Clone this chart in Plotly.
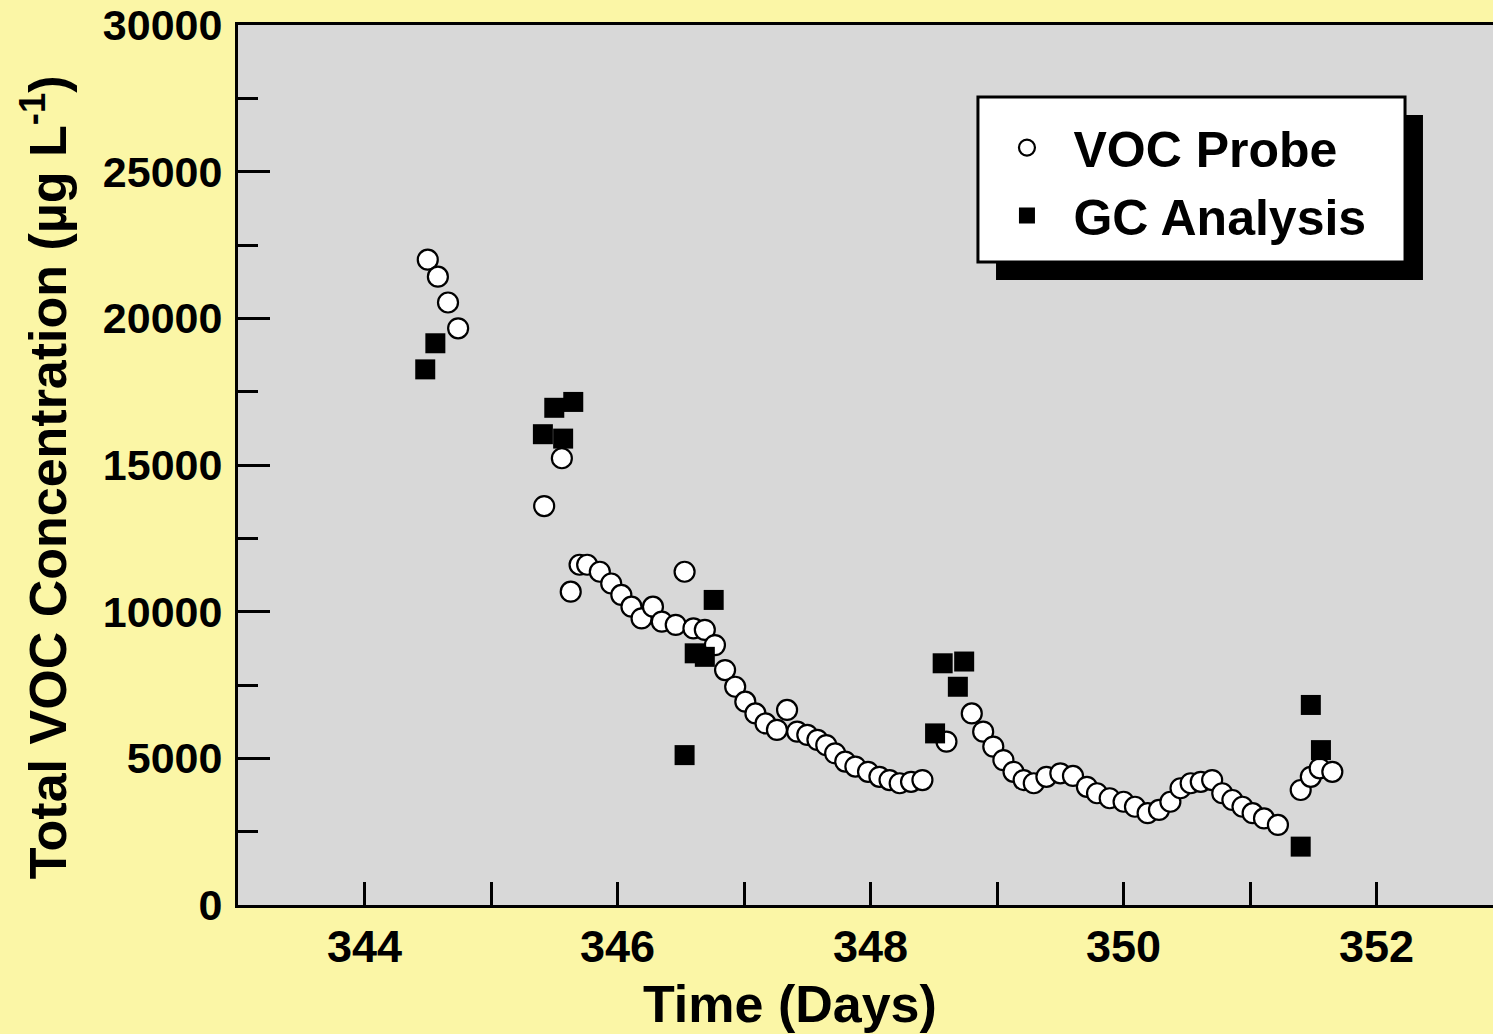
import plotly.graph_objects as go

# ---- data ----
voc_time = [344.50, 344.58, 344.66, 344.74, 345.42, 345.56, 345.63, 345.70, 345.76,
            345.86, 345.95, 346.03, 346.11, 346.19, 346.28, 346.35, 346.46, 346.53,
            346.60, 346.69, 346.77, 346.85, 346.93, 347.01, 347.09, 347.17, 347.26,
            347.34, 347.42, 347.50, 347.58, 347.65, 347.72, 347.80, 347.88, 347.98,
            348.07, 348.15, 348.23, 348.32, 348.41, 348.60, 348.80, 348.89, 348.97,
            349.05, 349.13, 349.21, 349.29, 349.39, 349.50, 349.60, 349.71, 349.79,
            349.89, 350.00, 350.09, 350.19, 350.28, 350.37, 350.45, 350.53, 350.61,
            350.70, 350.78, 350.86, 350.94, 351.02, 351.11, 351.22, 351.40, 351.48,
            351.55, 351.65]
voc_conc = [22000, 21420, 20540, 19660, 13600, 15230, 10680, 11600, 11600,
            11360, 10960, 10570, 10170, 9770, 10170, 9660, 9550, 11360,
            9430, 9380, 8860, 8010, 7440, 6930, 6530, 6190, 5970,
            6650, 5910, 5800, 5630, 5450, 5170, 4890, 4720, 4540,
            4370, 4260, 4150, 4200, 4260, 5570, 6530, 5910, 5400,
            4940, 4540, 4260, 4150, 4370, 4490, 4400, 4030, 3810,
            3640, 3520, 3350, 3130, 3240, 3520, 3980, 4150, 4200,
            4260, 3810, 3580, 3350, 3130, 2950, 2730, 3920, 4370,
            4660, 4540]

gc_time = [344.48, 344.56, 345.41, 345.50, 345.57, 345.65, 346.53, 346.61, 346.69,
           346.76, 348.51, 348.57, 348.69, 348.74, 351.40, 351.48, 351.56]
gc_conc = [18260, 19150, 16050, 16950, 15900, 17150, 5110, 8580, 8460,
           10400, 5850, 8240, 7440, 8300, 1990, 6820, 5280]

x_tick_vals = [344, 346, 348, 350, 352]
x_tick_text = ["344", "346", "348", "350", "352"]
y_tick_vals = [0, 5000, 10000, 15000, 20000, 25000, 30000]
y_tick_text = ["0", "5000", "10000", "15000", "20000", "25000", "30000"]

FONT = "Liberation Sans"

fig = go.Figure()
fig.add_trace(go.Scatter(
    x=voc_time, y=voc_conc, mode="markers", name="VOC Probe",
    marker=dict(symbol="circle", size=20, color="white",
                line=dict(color="black", width=2.2)),
))
fig.add_trace(go.Scatter(
    x=gc_time, y=gc_conc, mode="markers", name="GC Analysis",
    marker=dict(symbol="square", size=20, color="black",
                line=dict(color="black", width=0)),
))

fig.update_layout(
    width=1493, height=1034,
    margin=dict(l=238, r=0, t=25, b=129),
    paper_bgcolor="#fbf6a6",
    plot_bgcolor="#d8d8d8",
    font=dict(family=FONT, color="black", size=44, weight="bold"),
    showlegend=True,
    legend=dict(
        x=0.5916, y=0.905, xanchor="left", yanchor="top",
        bgcolor="rgba(0,0,0,0)", borderwidth=0,
        font=dict(family=FONT, size=50, color="black", weight="bold"),
        itemsizing="trace", itemwidth=83,
    ),
    shapes=[
        dict(type="rect", xref="paper", yref="paper",
             x0=0.604, x1=0.9442, y0=0.7102, y1=0.8977,
             fillcolor="black", line=dict(width=0), layer="above"),
        dict(type="rect", xref="paper", yref="paper",
             x0=0.5896, x1=0.9299, y0=0.7307, y1=0.9182,
             fillcolor="white", line=dict(color="black", width=3), layer="above"),
    ],
    annotations=[
        dict(text="Time (Days)", xref="paper", yref="paper", x=0.44, y=-0.113,
             xanchor="center", yanchor="middle", showarrow=False,
             font=dict(family=FONT, size=52, color="black", weight="bold")),
        dict(text="Total VOC Concentration (µg L<sup>-1</sup>)", xref="paper", yref="paper",
             x=-0.1538, y=0.486, xanchor="center", yanchor="middle", showarrow=False,
             textangle=-90,
             font=dict(family=FONT, size=52, color="black", weight="bold")),
    ],
)

fig.update_xaxes(
    range=[343, 352.92], showgrid=False, zeroline=False,
    showline=True, linecolor="black", linewidth=3, mirror=True,
    ticks="inside", ticklen=23, tickwidth=3, tickcolor="black",
    tickvals=x_tick_vals, ticktext=x_tick_text,
    tickfont=dict(family=FONT, size=45, color="black", weight="bold"),
    ticklabelstandoff=0,
    minor=dict(ticks="inside", ticklen=23, tickwidth=3, tickcolor="black", dtick=1,
               showgrid=False),
)
fig.update_yaxes(
    range=[0, 30000], showgrid=False, zeroline=False,
    showline=True, linecolor="black", linewidth=3, mirror=False,
    ticks="inside", ticklen=32, tickwidth=3, tickcolor="black",
    tickvals=y_tick_vals, ticktext=y_tick_text,
    tickfont=dict(family=FONT, size=43, color="black", weight="bold"),
    ticklabelstandoff=4,
    minor=dict(ticks="inside", ticklen=20, tickwidth=3, tickcolor="black", dtick=2500,
               showgrid=False),
)

fig.write_html(
    "out.html",
    config={"displayModeBar": False},
    post_script="document.body.style.margin='0';document.body.style.overflow='hidden';",
)
